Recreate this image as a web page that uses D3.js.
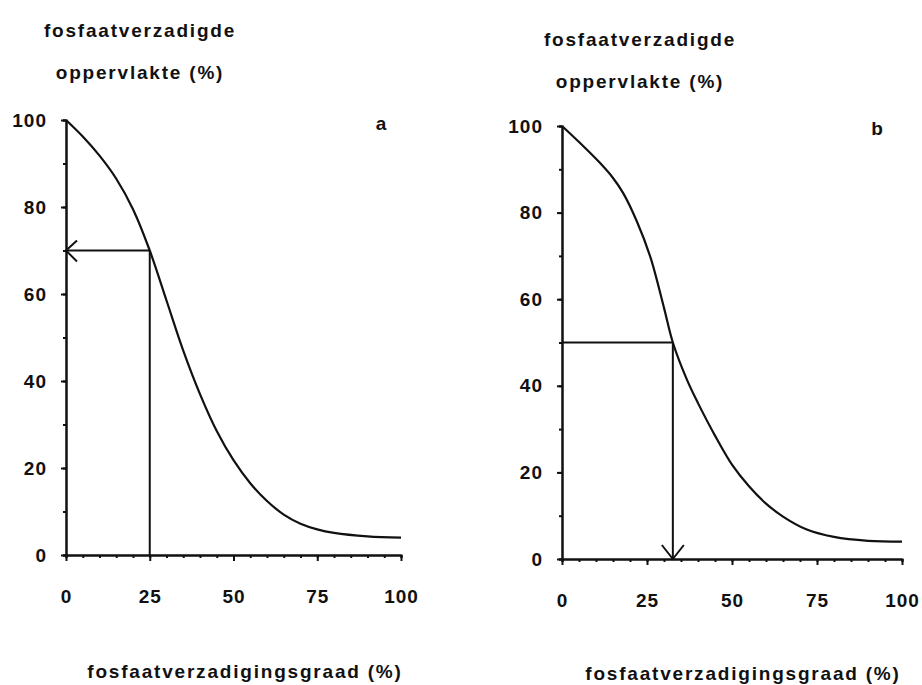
<!DOCTYPE html>
<meta charset="utf-8">
<style>
body { margin: 0; background: #fff; }
text { font-family: "Liberation Sans", Arial, sans-serif; font-weight: bold; font-size: 19px; letter-spacing: 1.8px; fill: #111; }
.axis path, .axis line { stroke: #111; stroke-width: 2px; }
.axis text { font-family: "Liberation Sans", Arial, sans-serif; font-size: 19px; letter-spacing: 1px; }
.curve { fill: none; stroke: #111; stroke-width: 2.2px; }
.guide { fill: none; stroke: #111; stroke-width: 2px; }
</style>
<body>
<script src="https://d3js.org/d3.v7.min.js"></script>
<script>

// curve values (x = verzadigingsgraad, y = oppervlakte)
var xA = [0, 5, 10, 15, 20, 25, 30, 35, 40, 45, 50, 55, 60, 65, 70, 75, 80, 90, 100];
var yA = [100, 96.2, 91.8, 86.5, 79.5, 70, 58.5, 47, 37, 28.5, 21.8, 16.5, 12.4, 9.3, 7.2, 5.9, 5.1, 4.3, 4.0];
var xB = [0, 5, 11, 15, 18, 22, 26, 30, 32.6, 36.8, 40, 45, 50, 55, 60, 65, 72, 80, 90, 100];
var yB = [100, 96.3, 91.6, 88, 84.5, 78, 69.7, 58, 50, 41.3, 36, 28.5, 21.8, 16.8, 12.8, 9.8, 6.8, 5.1, 4.2, 4.0];

// reading lines: a goes from x to y, b goes from y to x
var readA = {x: 25, y: 70};
var readB = {x: 32.6, y: 50};

var xMajor = [0, 25, 50, 75, 100];
var xMinor = d3.range(0, 101, 5);
var yMajor = [0, 20, 40, 60, 80, 100];
var yMinor = d3.range(0, 101, 10);

var titleTop = "fosfaatverzadigde";
var titleSub = "oppervlakte (%)";
var xTitle = "fosfaatverzadigingsgraad (%)";

var svg = d3.select("body").append("svg")
    .attr("width", 922)
    .attr("height", 685);

function panel(opt) {
  var g = svg.append("g")
      .attr("transform", "translate(" + opt.left + "," + opt.top + ")");

  var x = d3.scaleLinear().domain([0, 100]).range([0, opt.width]);
  var y = d3.scaleLinear().domain([0, 100]).range([opt.height, 0]);

  // minor ticks
  g.append("g").attr("class", "axis")
      .attr("transform", "translate(0," + opt.height + ")")
      .call(d3.axisBottom(x).tickValues(xMinor).tickSize(3).tickFormat(""));
  g.append("g").attr("class", "axis")
      .call(d3.axisLeft(y).tickValues(yMinor).tickSize(3).tickFormat(""));

  // major ticks + labels
  g.append("g").attr("class", "axis")
      .attr("transform", "translate(0," + opt.height + ")")
      .call(d3.axisBottom(x).tickValues(xMajor).tickSize(6).tickPadding(29).tickSizeOuter(0))
      .call(function(s) { s.selectAll("text").attr("fill", "#111"); });
  g.append("g").attr("class", "axis")
      .call(d3.axisLeft(y).tickValues(yMajor).tickSize(5).tickPadding(14).tickSizeOuter(0))
      .call(function(s) { s.selectAll("text").attr("fill", "#111"); });

  var line = d3.line()
      .x(function(d) { return x(d[0]); })
      .y(function(d) { return y(d[1]); })
      .curve(d3.curveCatmullRom.alpha(0.5));

  g.append("path")
      .datum(d3.zip(opt.xs, opt.ys))
      .attr("class", "curve")
      .attr("d", line);

  var r = opt.read;
  // horizontal and vertical guide
  g.append("path").attr("class", "guide")
      .attr("d", "M" + x(0) + "," + y(r.y) + "H" + x(r.x) + "M" + x(r.x) + "," + y(r.y) + "V" + y(0));

  // arrow head
  var ax, ay, a1, a2;
  if (opt.arrow == "left") {
    ax = x(0); ay = y(r.y);
    a1 = [ax + 11, ay - 10]; a2 = [ax + 11, ay + 11];
  } else {
    ax = x(r.x); ay = y(0);
    a1 = [ax - 11, ay - 14]; a2 = [ax + 11, ay - 14];
  }
  g.append("path").attr("class", "guide")
      .attr("d", "M" + a1 + "L" + ax + "," + ay + "L" + a2);

  // texts
  svg.append("text").attr("x", opt.titleX).attr("y", opt.titleY)
      .attr("text-anchor", "middle").text(titleTop);
  svg.append("text").attr("x", opt.titleX).attr("y", opt.titleY + 42)
      .attr("text-anchor", "middle").text(titleSub);
  svg.append("text").attr("x", opt.xTitleX).attr("y", opt.xTitleY)
      .attr("text-anchor", "middle").text(xTitle);
  svg.append("text").attr("x", opt.letterX).attr("y", opt.letterY)
      .attr("text-anchor", "middle").text(opt.letter);
}

panel({left: 66, top: 120, width: 335, height: 435, xs: xA, ys: yA, read: readA, arrow: "left",
       titleX: 140, titleY: 37, xTitleX: 245, xTitleY: 678, letter: "a", letterX: 382, letterY: 130});
panel({left: 562, top: 126, width: 340, height: 433, xs: xB, ys: yB, read: readB, arrow: "down",
       titleX: 640, titleY: 46, xTitleX: 743, xTitleY: 680, letter: "b", letterX: 878, letterY: 135});

</script>
</body>
